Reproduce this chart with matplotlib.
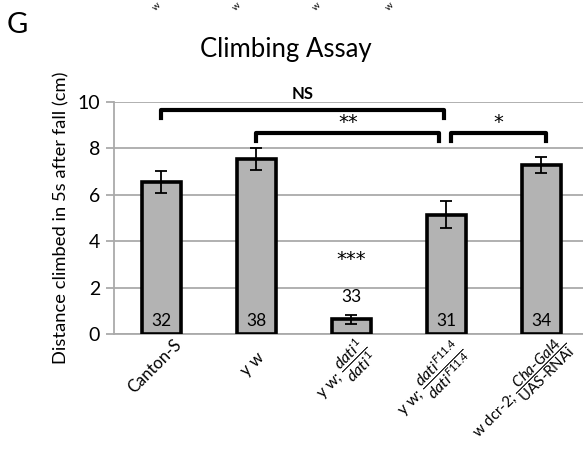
import matplotlib
matplotlib.use("Agg")
import matplotlib.pyplot as plt
from matplotlib.transforms import offset_copy

plt.rcParams['font.family'] = ['Lato', 'DejaVu Sans']
plt.rcParams['mathtext.fontset'] = 'custom'
plt.rcParams['mathtext.rm'] = 'Lato'
plt.rcParams['mathtext.it'] = 'Lato:italic'
plt.rcParams['mathtext.bf'] = 'Lato:bold'

categories = ["Canton-S", "y w",
              r"y w; $\dfrac{\mathit{dati}^{\mathit{1}}}{\mathit{dati}^{\mathit{1}}}$",
              r"y w; $\dfrac{\mathit{dati}^{\mathit{F11.4}}}{\mathit{dati}^{\mathit{F11.4}}}$",
              r"w dcr-2; $\dfrac{\mathit{Cha\text{-}Gal4}}{\mathrm{UAS\text{-}RNAi}}$"]
values = [6.55, 7.55, 0.63, 5.15, 7.27]
errors = [0.49, 0.48, 0.2, 0.58, 0.35]
counts = ["32", "38", "33", "31", "34"]
yticks = [0, 2, 4, 6, 8, 10]

# significance brackets: (x_start, x_end, y_line, label)
brackets = [(0, 2.98, 9.65, "NS"), (1.0, 2.93, 8.65, "**"), (3.05, 4.05, 8.65, "*")]

fig = plt.figure(figsize=(5.83, 4.5), dpi=100)
ax = fig.add_axes([114/583, 1-334/450, 1-114/583, 232/450])

x = list(range(len(categories)))
ax.bar(x, values, width=0.41, color='#B3B3B3', edgecolor='black', linewidth=2.6, zorder=3)
ax.errorbar(x, values, yerr=errors, fmt='none', ecolor='black', elinewidth=1.3,
            capsize=4, capthick=1.3, zorder=4)

ax.set_xlim(-0.495, 4.44)
ax.set_ylim(0, 10)
ax.set_yticks(yticks)
ax.yaxis.grid(True, color='#AAAAAA', linewidth=1.3, zorder=0)
ax.set_axisbelow(True)
for s in ['top', 'right']:
    ax.spines[s].set_visible(False)
ax.spines['left'].set_color('#AAAAAA')
ax.spines['left'].set_linewidth(1.3)
ax.spines['bottom'].set_color('#AAAAAA')
ax.spines['bottom'].set_linewidth(1.3)
ax.tick_params(axis='y', length=6, width=1.3, color='#AAAAAA', labelsize=14, pad=4)
ax.set_xticks(x)
ax.set_xticklabels([])
ax.tick_params(axis='x', length=0)
ax.set_ylabel("Distance climbed in 5s after fall (cm)", fontsize=13.2, labelpad=6)

# rotated category labels, centred below-left of each tick (pixel offsets)
label_offsets = [(-6, -32), (-4, -30), (-7, -38), (-14, -47), (-20, -55)]
label_sizes = [12, 12, 11.5, 11.5, 10.8]
base = ax.get_xaxis_transform()
for i, (lab, (dx, dy), fs) in enumerate(zip(categories, label_offsets, label_sizes)):
    tr = offset_copy(base, fig=fig, x=dx, y=dy, units='dots')
    ax.text(i, 0, lab, transform=tr, rotation=45, rotation_mode='anchor',
            ha='center', va='center', fontsize=fs, clip_on=False)

# counts
for i, c in enumerate(counts):
    if i == 2:
        ax.text(i, 1.6, c, ha='center', va='center', fontsize=12.5)
    else:
        ax.text(i, 0.58, c, ha='center', va='center', fontsize=12.5, zorder=5)
ax.text(2, 3.2, "***", ha='center', va='center', fontsize=14, family='DejaVu Sans')

for x0, x1, yl, lab in brackets:
    ax.plot([x0, x0, x1, x1], [yl - 0.32, yl, yl, yl - 0.32], color='black', lw=3,
            solid_joinstyle='round', clip_on=False, zorder=5)
    if lab == "NS":
        ax.text((x0 + x1) / 2, yl + 0.7, lab, ha='center', va='center', fontsize=12,
                fontweight='bold')
    else:
        ax.text((x0 + x1) / 2, yl + 0.45, lab, ha='center', va='center', fontsize=14,
                family='DejaVu Sans')

fig.text(286/583, 1-50/450, "Climbing Assay", ha='center', va='center', fontsize=18.5)
fig.text(7/583, 1-25/450, "G", ha='left', va='center', fontsize=21)

# small fragments of the previous panel at the top edge
for px in [157, 237, 317, 390]:
    fig.text(px/583, 1-1/450, "w", ha='center', va='top', fontsize=7, rotation=45)

fig.savefig("out.png", dpi=100)
